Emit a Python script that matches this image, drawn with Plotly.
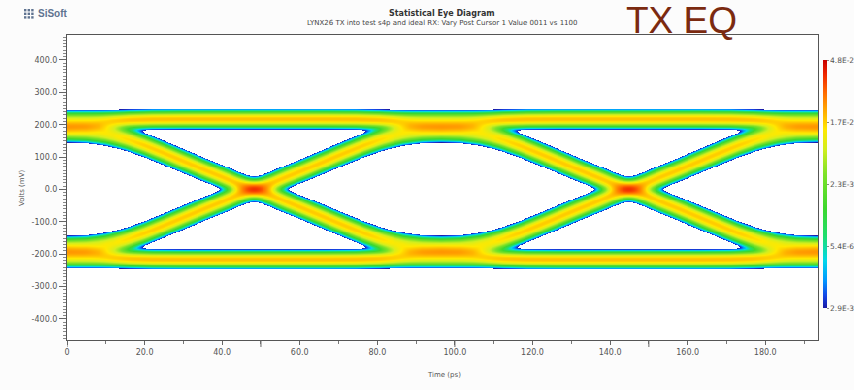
import numpy as np
import plotly.graph_objects as go

# ---------------- timing and axis ranges (ps / mV) ----------------
UI = 96.5                 # unit interval
EYE_CENTER = 0.0          # first eye centre on the time axis
X_RANGE = [0.0, 193.6]
Y_RANGE = [-465.0, 477.0]

# ---------------- waveform levels at the eye centre (mV) ----------------
LEVEL_RUN = 217.0         # bit inside a run of equal bits
LEVEL_EDGE = 194.0        # bit next to one transition
LEVEL_ISO = 172.0         # isolated bit

# settling from the edge level up to the run level (first half UI)
SETTLE_T = [0, 4, 8, 12, 16, 22, 30, 48.25]
SETTLE_V = [194, 195, 199, 206, 212, 216, 217, 217]

# falling half-waveforms from the centre level down to the crossing
DROP_EDGE_T = [0, 4, 8, 12, 16, 20, 25, 30, 35, 40, 44, 48.25]
DROP_EDGE_V = [194, 193, 188, 177, 160, 140, 114, 88, 62, 38, 18, 0]
DROP_ISO_T = [0, 5, 10, 15, 20, 25, 30, 35, 40, 44, 48.25]
DROP_ISO_V = [172, 170, 163, 150, 132, 110, 86, 62, 38, 18, 0]

# bit patterns (prev, cur=1, next, next2) as (first half, second half)
PATTERNS = [
    ("run", "run"),            # 1111
    ("run", "predip"),         # 1110
    ("settle", "run"),         # 0111
    ("settle", "predip"),      # 0110
    ("drop_edge", "land_edge"),  # 1100
    ("drop_edge", "land_iso"),   # 1101
    ("drop_iso", "land_edge"),   # 0100
    ("drop_iso", "land_iso"),    # 0101
]

# noise / jitter used to spread each trajectory into a probability band
SIG_V = 12.8   # mV
SIG_T = 1.7    # ps
SLOPE_EXP = 0.3
LOG_RANGE = 4.0
PEAK_4 = 0.77

# axis ticks
X_TICKS = [0, 20, 40, 60, 80, 100, 120, 140, 160, 180]
X_TICK_TEXT = ["0", "20.0", "40.0", "60.0", "80.0", "100.0", "120.0",
               "140.0", "160.0", "180.0"]
X_LONG_TICKS = [0, 50, 100, 150]
Y_TICKS = [-400, -300, -200, -100, 0, 100, 200, 300, 400]
Y_TICK_TEXT = ["-400.0", "-300.0", "-200.0", "-100.0", "0.0", "100.0",
               "200.0", "300.0", "400.0"]
CBAR_TICKS = [0.0, 0.25, 0.5, 0.75, 1.0]
CBAR_TICK_TEXT = ["2.9E-3", "5.4E-6", "2.3E-3", "1.7E-2", "4.8E-2"]

HALF = UI / 2.0


def first_half(kind, tau):
    if kind == "run":
        return np.full_like(tau, LEVEL_RUN)
    if kind == "settle":
        return np.interp(tau, SETTLE_T, SETTLE_V)
    if kind == "drop_edge":
        return np.interp(tau, DROP_EDGE_T, DROP_EDGE_V)
    return np.interp(tau, DROP_ISO_T, DROP_ISO_V)


def second_half(kind, tau):
    m = UI - tau
    if kind == "run":
        return np.full_like(tau, LEVEL_RUN)
    if kind == "predip":
        return np.interp(m, SETTLE_T, SETTLE_V)
    if kind == "land_edge":
        return -np.interp(m, DROP_EDGE_T, DROP_EDGE_V)
    return -np.interp(m, DROP_ISO_T, DROP_ISO_V)


def wave(first, second, tau):
    return np.where(tau < HALF, first_half(first, tau), second_half(second, tau))


# ---------------- statistical eye density ----------------
t = np.arange(X_RANGE[0], X_RANGE[1] + 0.125, 0.25)
v = np.arange(-300.0, 301.0, 3.0)
tau = np.mod(t - EYE_CENTER, UI)
lo = np.maximum(tau - 2.0, 0.0)
hi = np.minimum(tau + 2.0, UI)

density = np.zeros((v.size, t.size))
for first, second in PATTERNS:
    base = wave(first, second, tau)
    slope = (wave(first, second, hi) - wave(first, second, lo)) / (hi - lo)
    se = np.sqrt(SIG_V ** 2 + (slope * SIG_T) ** 2)
    amp = (SIG_V / se) ** SLOPE_EXP
    for sign in (1.0, -1.0):
        d = (v[:, None] - sign * base[None, :]) / se[None, :]
        density += amp[None, :] * np.exp(-0.5 * d * d)

ln_zmin = np.log(4.0) - PEAK_4 * LOG_RANGE
level = (np.log(np.maximum(density, 1e-300)) - ln_zmin) / LOG_RANGE
level = np.where(level < 0, np.nan, np.minimum(level, 1.0))

EYE_COLORS = [
    [0.00, "rgb(25,25,165)"],
    [0.05, "rgb(20,70,230)"],
    [0.11, "rgb(0,150,255)"],
    [0.19, "rgb(0,215,235)"],
    [0.29, "rgb(30,222,110)"],
    [0.40, "rgb(60,215,45)"],
    [0.54, "rgb(125,226,40)"],
    [0.64, "rgb(210,238,30)"],
    [0.72, "rgb(255,232,0)"],
    [0.79, "rgb(255,175,0)"],
    [0.87, "rgb(255,105,0)"],
    [0.94, "rgb(240,40,0)"],
    [1.00, "rgb(200,0,0)"],
]

# plot-area geometry in pixels
W, Hpx = 854, 390
ML, MR, MT, MB = 67, 36, 35, 50
PW, PH = W - ML - MR, Hpx - MT - MB


def px(xp):
    return (xp - ML) / PW


def py(yp):
    return (Hpx - MB - yp) / PH


fig = go.Figure()
fig.add_trace(go.Heatmap(
    x=t, y=v, z=level,
    zmin=0, zmax=1, zsmooth=False,
    colorscale=EYE_COLORS,
    hoverinfo="skip",
    colorbar=dict(
        x=px(823), xanchor="left", xpad=0,
        y=py(184), yanchor="middle", ypad=0,
        len=248, lenmode="pixels",
        thickness=4, outlinewidth=0,
        tickmode="array", tickvals=CBAR_TICKS, ticktext=CBAR_TICK_TEXT,
        ticks="outside", ticklen=2, tickcolor="#888",
        tickfont=dict(family="DejaVu Sans", size=7.5, color="#555"),
    ),
))

axis_font = dict(family="DejaVu Sans", size=8, color="#555")
fig.update_xaxes(
    range=X_RANGE, showgrid=False, zeroline=False,
    showline=True, linecolor="#555", linewidth=1, mirror=True,
    tickmode="array", tickvals=X_TICKS, ticktext=X_TICK_TEXT,
    ticks="outside", ticklen=4, tickcolor="#666", tickfont=axis_font,
    minor=dict(dtick=10, ticklen=3, tickcolor="#777", ticks="outside"),
)
fig.update_yaxes(
    range=Y_RANGE, showgrid=False, zeroline=False,
    showline=True, linecolor="#555", linewidth=1, mirror=True,
    tickmode="array", tickvals=Y_TICKS, ticktext=Y_TICK_TEXT,
    ticks="outside", ticklen=7, tickcolor="#666", tickfont=axis_font,
    minor=dict(dtick=10, ticklen=3, tickcolor="#888", ticks="outside"),
)

annotations = [
    dict(text="<b>Statistical Eye Diagram</b>", x=px(442), y=py(13),
         font=dict(family="DejaVu Sans", size=8, color="#333")),
    dict(text="LYNX26 TX into test s4p and ideal RX: Vary Post Cursor 1 Value 0011 vs 1100",
         x=px(442), y=py(22.5), font=dict(family="DejaVu Sans", size=7, color="#444")),
    dict(text="TX EQ", x=px(625), y=py(42), xanchor="left", yanchor="bottom",
         borderpad=0, font=dict(family="Liberation Sans", size=37, color="#7b2a10")),
    dict(text="<b>SiSoft</b>", x=px(36), y=py(14), xanchor="left",
         font=dict(family="Liberation Sans", size=10, color="#5f7390")),
    dict(text="Volts (mV)", x=px(22), y=py(188), textangle=-90,
         font=dict(family="DejaVu Sans", size=7, color="#555")),
    dict(text="Time (ps)", x=px(444), y=py(375),
         font=dict(family="DejaVu Sans", size=7, color="#555")),
]
for a in annotations:
    a.update(xref="paper", yref="paper", showarrow=False)
    a.setdefault("xanchor", "center")
    a.setdefault("yanchor", "middle")

shapes = []
# longer ticks every 50 ps on the time axis
for xv in X_LONG_TICKS:
    shapes.append(dict(type="line", xref="x", yref="paper", x0=xv, x1=xv,
                       y0=py(340), y1=py(347), line=dict(color="#666", width=1)))
# small dotted logo mark next to the company name
for i in range(3):
    for j in range(3):
        x0 = 24 + i * 3.6
        y0 = 9 + j * 3.6
        shapes.append(dict(type="rect", xref="paper", yref="paper",
                           x0=px(x0), x1=px(x0 + 2.4), y0=py(y0 + 2.4), y1=py(y0),
                           fillcolor="#5f7390", line=dict(width=0)))

fig.update_layout(
    width=W, height=Hpx,
    margin=dict(l=ML, r=MR, t=MT, b=MB, autoexpand=False),
    paper_bgcolor="#fcfcfc", plot_bgcolor="white",
    showlegend=False,
    annotations=annotations,
    shapes=shapes,
)

fig.write_html("out.html")
